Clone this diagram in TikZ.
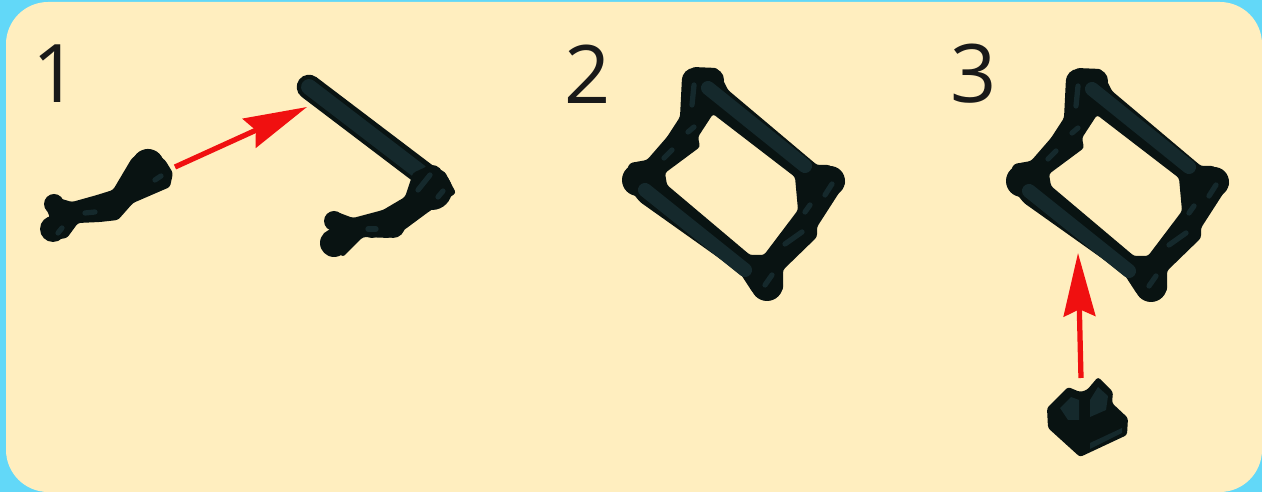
\documentclass[tikz,border=0pt]{standalone}
\usepackage{fontspec}
\setmainfont{Open Sans}
\usetikzlibrary{arrows.meta}
\definecolor{panelcream}{HTML}{FFEEBF}
\definecolor{edgecyan}{HTML}{62D8F8}
\definecolor{partblack}{HTML}{091312}
\definecolor{partteal}{HTML}{15292C}
\definecolor{arrowred}{HTML}{F01010}
\tikzset{
  steplabel/.style={font=\fontsize{46}{46}\selectfont,text=black!90,inner sep=0pt},
  partshape/.style={fill=partblack,rounded corners=1.5},
  barpart/.style={line width=9pt,line cap=round,draw=partteal},
  barback/.style={line width=14pt,line cap=round,draw=partblack},
  detail/.style={line width=3pt,line cap=round,draw=partteal},
  redarrow/.style={draw=arrowred,line width=3pt,-{Stealth[length=36pt,width=18pt,inset=4pt]}}
}
\begin{document}
\begin{tikzpicture}[x=0.02cm,y=-0.02cm]
  \useasboundingbox (0,0) rectangle (1262,492);
  \fill[edgecyan] (0,0) rectangle (1262,492);
  \fill[panelcream,rounded corners=24] (6,2) rectangle (1262,492);

  \node[steplabel] (num1) at (56,74) {1};
  \node[steplabel] (num2) at (588,74) {2};
  \node[steplabel] (num3) at (974,74) {3};

  % step 1, loose arm
  \fill[partshape] (148,148) -- (165,160) -- (173,173) -- (170,187) -- (133,203) -- (118,220)
    -- (100,222) -- (78,223) -- (67,238) -- (53,240) -- (42,228) -- (50,218) -- (45,205)
    -- (55,197) -- (72,202) -- (97,195) -- (113,190) -- (132,158) -- cycle;
  \foreach \x/\y/\r in {148/165/16,158/178/12,112/208/11,92/212/10,54/204/10,53/229/13}
    \fill[partblack] (\x,\y) circle (\r*0.02cm);
  \draw[detail] (85,213) -- (95,212);
  \draw[detail] (155,180) -- (161,176);
  \draw[detail] (58,233) -- (62,228);

  % step 1, bar and arm
  \draw[barback] (309,87) -- (425,175);
  \draw[barpart] (309,87) -- (420,172);
  \fill[partshape] (430,165) -- (445,172) -- (456,193) -- (427,213) -- (400,233) -- (390,238)
    -- (363,237) -- (343,257) -- (324,241) -- (333,233) -- (326,222) -- (337,212) -- (353,218)
    -- (383,210) -- (405,197) -- (413,173) -- cycle;
  \foreach \x/\y/\r in {432/190/20,432/176/11,393/226/12,372/228/10,334/221/10,334/243/14}
    \fill[partblack] (\x,\y) circle (\r*0.02cm);
  \draw[detail] (418,190) -- (430,175);
  \draw[detail] (368,229) -- (376,229);
  \draw[detail] (438,197) -- (443,191);

  % steps 2 and 3
  \foreach \dx/\dy in {0/0,384/1} {
    \begin{scope}[shift={(\dx,\dy)}]
      \fill[partshape,even odd rule] (693,67) -- (717,68) -- (728,90) -- (817,165) -- (830,165)
        -- (846,182) -- (817,227) -- (817,237) -- (783,270) -- (783,290) -- (767,301) -- (753,293)
        -- (740,273) -- (640,202) -- (622,180) -- (630,163) -- (647,160) -- (667,137) -- (680,117)
        -- (682,77) -- cycle
        (713,114) -- (795,177) -- (798,210) -- (764,255) -- (750,255) -- (667,185) -- (665,173)
        -- (700,147) -- (698,137) -- cycle;
      \foreach \x/\y/\r in {694/80/12,712/80/12,638/180/16,830/181/15,767/285/16}
        \fill[partblack] (\x,\y) circle (\r*0.02cm);
      \draw[barpart,line width=8pt] (708,88) -- (805,166);
      \draw[barpart,line width=8pt] (645,190) -- (745,270);
      \draw[detail] (664,158) -- (672,150);
      \draw[detail] (688,132) -- (694,127);
      \draw[detail] (692,105) -- (694,85);
      \draw[detail] (785,244) -- (802,232);
      \draw[detail] (765,285) -- (772,275);
      \draw[detail] (825,195) -- (832,184);
      \draw[detail] (805,212) -- (810,205);
    \end{scope}
  }

  % step 3, clip
  \fill[partshape] (1047,408) -- (1062,393) -- (1068,387) -- (1080,392) -- (1087,390) -- (1098,377)
    -- (1113,392) -- (1112,403) -- (1128,418) -- (1127,435) -- (1080,457) -- (1048,428) -- cycle;
  \fill[partteal] (1060,408) -- (1071,397) -- (1079,400) -- (1079,420) -- (1068,420) -- cycle;
  \fill[partteal] (1090,400) -- (1098,387) -- (1108,396) -- (1106,410) -- (1090,417) -- cycle;
  \fill[partteal] (1090,443) -- (1122,428) -- (1122,433) -- (1090,449) -- cycle;

  % arrows
  \coordinate (arrow1s) at (175,167);
  \coordinate (arrow1e) at (307,107);
  \coordinate (arrow3s) at (1081,378);
  \coordinate (arrow3e) at (1078,253);
  \draw[redarrow] (arrow1s) -- (arrow1e);
  \draw[redarrow] (arrow3s) -- (arrow3e);
\end{tikzpicture}
\end{document}
